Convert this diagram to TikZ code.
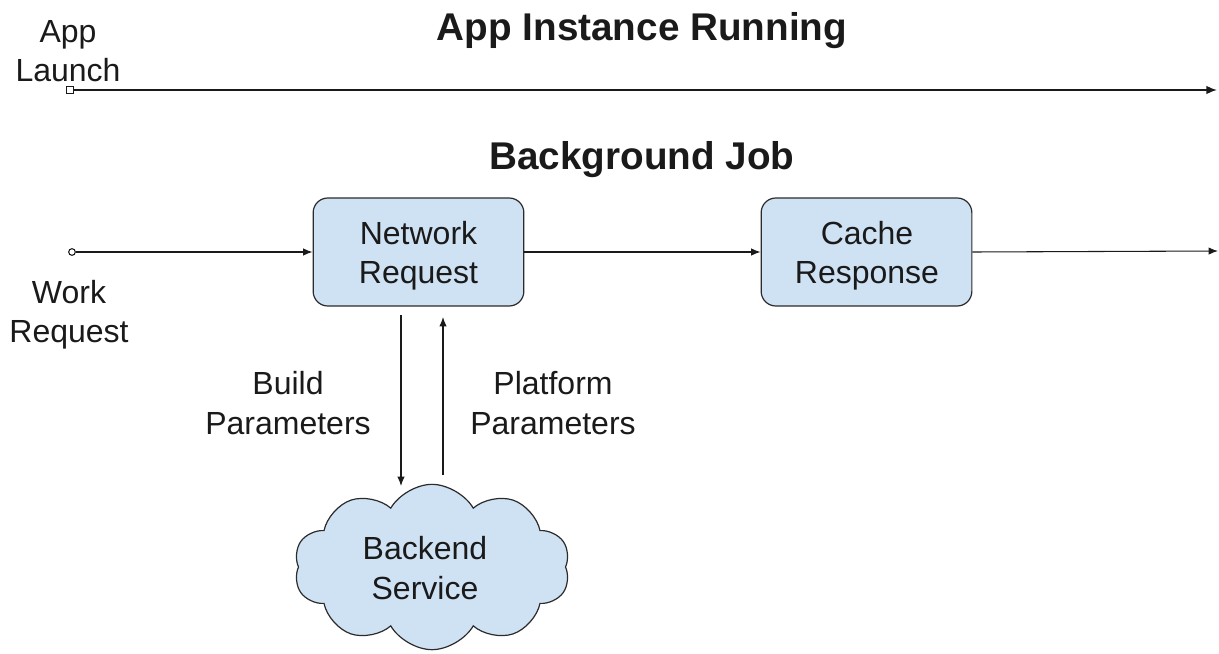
\documentclass[tikz,border=0pt]{standalone}
\usepackage{fontspec}
\setmainfont{Liberation Sans}
\usetikzlibrary{arrows.meta,shapes.symbols}
\definecolor{boxfill}{HTML}{CFE2F3}
\definecolor{boxline}{HTML}{2B2B2B}
\definecolor{txt}{HTML}{1A1A1A}
\begin{document}
\begin{tikzpicture}[x=0.75pt,y=-0.75pt,
  lbl/.style={font=\fontsize{24}{29.5}\selectfont, align=center, inner sep=0pt, text=txt},
  ttl/.style={font=\bfseries\fontsize{29}{34}\selectfont, inner sep=0pt, text=txt},
  proc/.style={draw=boxline, line width=0.9pt, fill=boxfill, rounded corners=11pt,
    minimum width=158pt, minimum height=81pt, inner sep=0pt},
  arr/.style={-{Latex[length=7pt,width=5.5pt]}, line width=0.8pt, draw=txt},
  arrbig/.style={-{Latex[length=8pt,width=6.5pt]}, line width=1.3pt, draw=txt}]
\useasboundingbox (0,0) rectangle (1219,653);

% titles
\node[ttl] (t1) at (642,31) {App Instance Running};
\node[ttl] (t2) at (642,160) {Background Job};

% app launch
\node[lbl] (al) at (68,51) {App\\Launch};
\node[draw=txt, line width=0.8pt, fill=white, minimum size=5pt, inner sep=0pt] (launch) at (70,90) {};
\coordinate (topend) at (1217,90);
\draw[arrbig] (launch) -- (topend);

% work request
\node[lbl] (wrl) at (69,315) {Work\\Request};
\node[circle, draw=txt, line width=0.8pt, fill=white, minimum size=5pt, inner sep=0pt] (wr) at (72,252) {};

% process boxes
\node[proc] (nr) at (418.5,252) {};
\node[proc] (cr) at (866.5,252) {};
\node[lbl] (nrl) at (418.5,256) {Network\\Request};
\node[lbl] (crl) at (867,256) {Cache\\Response};
\coordinate (outend) at (1218,251);

\draw[arr] (wr) -- (nr.west);
\draw[arr] (nr.east) -- (cr.west);
\draw[arr] (cr.east) -- (outend);

% backend
\node[cloud, cloud puffs=10, cloud puff arc=120, cloud ignores aspect, draw=boxline, line width=0.9pt,
  fill=boxfill, minimum width=207pt, minimum height=124pt, inner sep=0pt] (be) at (432,567) {};
\node[lbl] (bel) at (425,568) {Backend\\Service};

\coordinate (d1) at (401,315);
\coordinate (d2) at (401,486);
\coordinate (u1) at (443,475);
\coordinate (u2) at (443,317);
\draw[arr] (d1) -- (d2);
\draw[arr] (u1) -- (u2);

\node[lbl] (bp) at (288,403) {Build\\Parameters};
\node[lbl] (pp) at (553,403) {Platform\\Parameters};
\end{tikzpicture}
\end{document}
